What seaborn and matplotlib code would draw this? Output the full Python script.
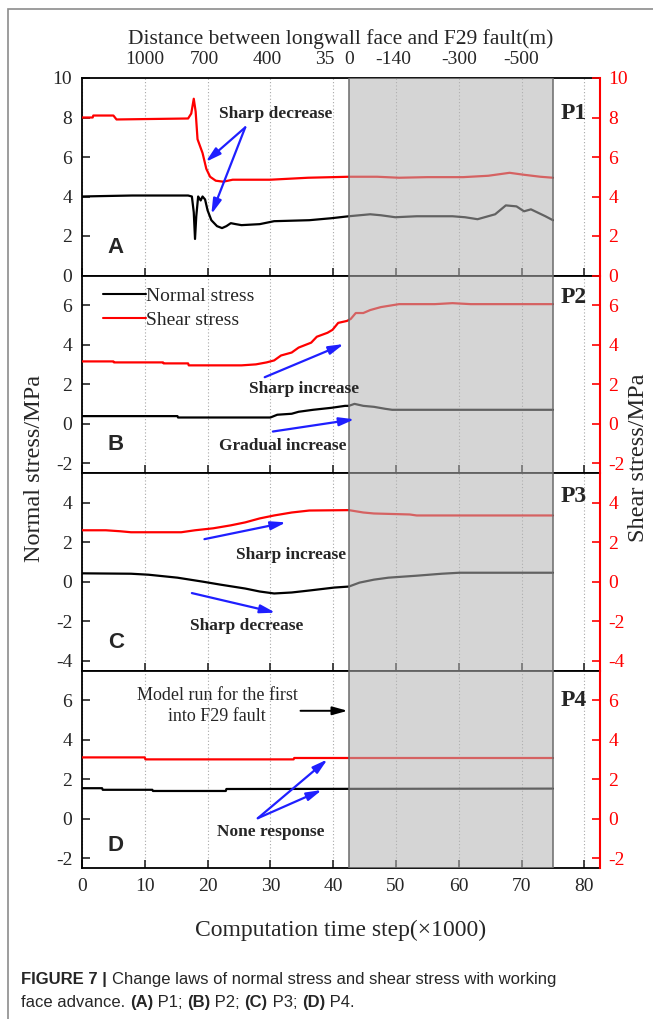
import matplotlib
matplotlib.use('Agg')
import matplotlib.pyplot as plt
import seaborn as sns
from matplotlib.patches import Rectangle
from matplotlib.lines import Line2D

sns.set_style('white')
plt.rcParams['font.family'] = ['Liberation Serif', 'DejaVu Serif']
plt.rcParams['axes.unicode_minus'] = False

# ---- datos (x = paso de calculo x1000, MPa) ----
a_x_norm = [0, 3, 8, 16.9, 17.5, 17.8, 18.0, 18.2, 18.5, 18.9, 19.2, 19.6, 20.0, 20.6, 21.5,
            22.3, 23.0, 23.7, 24.5, 25.4, 28.3, 30.6, 36.2, 39.7, 42.5, 45.9, 47.6, 49.9,
            53.3, 59.0, 61.0, 63.0, 65.8, 67.5, 69.2, 70.4, 71.5, 73.8, 75]
a_norm = [4.0, 4.02, 4.05, 4.05, 4.0, 3.2, 1.85, 3.0, 4.0, 3.8, 4.0, 3.85, 3.3, 2.8, 2.5,
          2.4, 2.5, 2.65, 2.6, 2.55, 2.6, 2.75, 2.8, 2.9, 3.0, 3.1, 3.05, 2.95,
          3.0, 3.0, 2.95, 2.85, 3.1, 3.55, 3.5, 3.25, 3.35, 3.0, 2.8]
a_x_shear = [0, 1.7, 1.8, 5.0, 5.5, 16.9, 17.4, 17.8, 18.1, 18.4, 19.2, 19.8, 20.4, 21.3,
             22.5, 24.0, 30.0, 36.0, 42.5, 47, 50.5, 55, 60.7, 64.7, 68.1, 70.4, 73, 75]
a_shear = [8.0, 8.0, 8.1, 8.1, 7.9, 7.95, 8.2, 8.95, 8.3, 6.9, 6.2, 5.4, 5.0, 4.8,
           4.75, 4.85, 4.85, 4.95, 5.0, 5.0, 4.95, 4.98, 4.98, 5.05, 5.2, 5.1, 5.0, 4.95]

b_x_norm = [0, 15.2, 15.3, 30.0, 31.1, 33.4, 34.5, 36.8, 39.7, 41.9, 42.5, 43.4, 44.8,
            46.5, 48.3, 49.4, 75]
b_norm = [0.38, 0.38, 0.31, 0.31, 0.45, 0.5, 0.6, 0.7, 0.8, 0.9, 0.9, 1.0, 0.9,
          0.85, 0.75, 0.7, 0.7]
b_x_shear = [0, 5, 5.1, 12.9, 13, 16.9, 17, 25.4, 27.7, 29.4, 30.6, 31.7, 33.4, 34.5, 35.7,
             36.5, 37.4, 39.1, 39.9, 40.8, 42.2, 42.8, 43.6, 44.8, 45.9, 47.6, 50.5, 56.2,
             59, 61.9, 75]
b_shear = [3.15, 3.15, 3.1, 3.1, 3.05, 3.05, 2.95, 2.95, 3.0, 3.1, 3.2, 3.45, 3.6, 3.85, 4.0,
           4.1, 4.4, 4.6, 4.75, 5.1, 5.2, 5.3, 5.6, 5.6, 5.75, 5.9, 6.05, 6.05,
           6.1, 6.05, 6.05]

c_x_norm = [0, 7.8, 10.6, 15.2, 19.2, 22.0, 26.0, 28.3, 30.6, 33.4, 36.2, 40.2, 42.5, 44.2,
            46.5, 48.8, 53.3, 57.3, 60.1, 75]
c_norm = [0.42, 0.4, 0.35, 0.2, 0.0, -0.15, -0.35, -0.5, -0.6, -0.55, -0.45, -0.3, -0.25, -0.05,
          0.1, 0.2, 0.3, 0.4, 0.45, 0.45]
c_x_shear = [0, 3.8, 6.1, 7.8, 15.8, 18.0, 20.9, 23.7, 26.0, 28.3, 30.6, 33.4, 36.2, 42.5,
             44.8, 46.5, 52.2, 53.3, 75]
c_shear = [2.6, 2.6, 2.55, 2.5, 2.5, 2.6, 2.7, 2.85, 3.0, 3.2, 3.35, 3.5, 3.6, 3.62,
           3.5, 3.45, 3.4, 3.35, 3.35]

d_x_norm = [0, 3.2, 3.3, 11.2, 11.3, 22.9, 23.0, 75]
d_norm = [1.54, 1.54, 1.46, 1.46, 1.4, 1.4, 1.5, 1.52]
d_x_shear = [0, 10, 10.1, 33.7, 33.8, 75]
d_shear = [3.1, 3.1, 3.0, 3.0, 3.07, 3.07]

panel_letters = ['A', 'B', 'C', 'D']
panel_points = ['P1', 'P2', 'P3', 'P4']
ylims = [(0, 10), (-2.5, 7.5), (-4.5, 5.5), (-2.5, 7.5)]
yticks = [[0, 2, 4, 6, 8, 10], [-2, 0, 2, 4, 6], [-4, -2, 0, 2, 4], [-2, 0, 2, 4, 6]]
xticks = [0, 10, 20, 30, 40, 50, 60, 70, 80]
top_pos = [10, 19.5, 29.5, 38.7, 42.6, 49.5, 60, 70]
top_labels = ['1000', '700', '400', '35', '0', '-140', '-300', '-500']
fault_start, fault_end = 42.5, 75

series = [(a_x_norm, a_norm, a_x_shear, a_shear),
          (b_x_norm, b_norm, b_x_shear, b_shear),
          (c_x_norm, c_norm, c_x_shear, c_shear),
          (d_x_norm, d_norm, d_x_shear, d_shear)]

W, H = 653, 1019
fig, axes = plt.subplots(4, 1, figsize=(W / 100, H / 100), dpi=100, sharex=True,
                         gridspec_kw=dict(hspace=0))
fig.subplots_adjust(left=82 / W, right=600 / W, top=1 - 78 / H, bottom=1 - 868 / H)

blue_arrow = dict(arrowstyle='-|>,head_length=0.9,head_width=0.25', color='#1f1fff', lw=1.6,
                  shrinkA=0, shrinkB=0)
bold_txt = dict(fontsize=12.5, fontweight='bold', ha='center', va='center', zorder=6)
point_y = [8.2, 6.4, 4.3, 6.0]
letter_y = [1.4, -1.07, -3.1, -1.36]

twins = []
for i, ax in enumerate(axes):
    xn, yn, xs, ys = series[i]
    tw = ax.twinx()
    twins.append(tw)
    sns.lineplot(x=xn, y=yn, ax=ax, color='black', lw=1.6, estimator=None, sort=False)
    sns.lineplot(x=xs, y=ys, ax=tw, color='red', lw=1.6, estimator=None, sort=False)
    for a in (ax, tw):
        a.set_ylim(*ylims[i])
        a.set_yticks(yticks[i])
        a.set_ylabel('')
    ax.set_xlim(0, 82.5)
    ax.set_xticks(xticks)
    ax.grid(axis='x', ls=(0, (1, 2)), color='#a8a8a8', lw=0.8)
    ax.grid(axis='y', visible=False)
    ax.tick_params(axis='both', direction='in', length=6, width=1.2, labelsize=14,
                   top=(i == 0), bottom=True, left=True, right=False, pad=7)
    tw.tick_params(axis='y', direction='in', length=6, width=1.2, labelsize=14,
                   colors='red', pad=6)
    for s in ['left', 'top', 'bottom']:
        ax.spines[s].set_linewidth(1.3)
        ax.spines[s].set_color('black')
        tw.spines[s].set_visible(False)
    ax.spines['right'].set_visible(False)
    tw.spines['right'].set_color('red')
    tw.spines['right'].set_linewidth(1.5)
    # zona dentro de la falla F29
    tw.axvspan(fault_start, fault_end, fc='#b4b4b4', alpha=0.55, lw=0, zorder=3)
    tw.axvline(fault_start, color='#6a6a6a', lw=1.1, zorder=3.5)
    tw.axvline(fault_end, color='#6a6a6a', lw=1.1, zorder=3.5)
    tw.text(78.3, point_y[i], panel_points[i], fontsize=17, fontweight='bold',
            ha='center', va='center', zorder=6)
    tw.text(5.4, letter_y[i], panel_letters[i], fontsize=16, fontweight='bold',
            family='Liberation Sans', ha='center', va='center', zorder=6)

axes[-1].set_xlabel('')
axes[-1].tick_params(axis='x', labelsize=14, pad=7)

# --- anotaciones ---
t = twins[0]
t.text(30.8, 8.2, 'Sharp decrease', **bold_txt)
t.annotate('', xy=(19.7, 5.75), xytext=(26, 7.5), arrowprops=blue_arrow, zorder=6)
t.annotate('', xy=(20.6, 3.1), xytext=(26, 7.5), arrowprops=blue_arrow, zorder=6)

t = twins[1]
t.text(35.4, 1.75, 'Sharp increase', **bold_txt)
t.annotate('', xy=(41.7, 4.03), xytext=(29.1, 2.35), arrowprops=blue_arrow, zorder=6)
t.text(32.0, -1.15, 'Gradual increase', **bold_txt)
t.annotate('', xy=(43.4, 0.22), xytext=(30.4, -0.4), arrowprops=blue_arrow, zorder=6)
leg = t.legend(handles=[Line2D([], [], color='black', lw=1.5), Line2D([], [], color='red', lw=1.5)],
               labels=['Normal stress', 'Shear stress'], loc='upper left',
               bbox_to_anchor=(0.025, 0.98), frameon=False, fontsize=14, handlelength=2.2,
               handletextpad=0.05, labelspacing=0.35, borderaxespad=0)
leg.set_zorder(6)

t = twins[2]
t.text(33.3, 1.33, 'Sharp increase', **bold_txt)
t.annotate('', xy=(32.5, 3.0), xytext=(19.5, 2.15), arrowprops=blue_arrow, zorder=6)
t.text(26.2, -2.25, 'Sharp decrease', **bold_txt)
t.annotate('', xy=(30.8, -1.57), xytext=(17.5, -0.58), arrowprops=blue_arrow, zorder=6)

t = twins[3]
t.text(21.5, 5.7, 'Model run for the first\ninto F29 fault', fontsize=13, ha='center',
       va='center', linespacing=1.35, zorder=6)
t.annotate('', xy=(42.3, 5.46), xytext=(34.8, 5.46),
           arrowprops=dict(arrowstyle='-|>,head_length=0.9,head_width=0.25', color='black',
                           lw=1.4, shrinkA=0, shrinkB=0), zorder=6)
t.text(30.0, -0.7, 'None response', **bold_txt)
t.annotate('', xy=(39.1, 3.0), xytext=(28, 0.02), arrowprops=blue_arrow, zorder=6)
t.annotate('', xy=(38.2, 1.45), xytext=(28, 0.02), arrowprops=blue_arrow, zorder=6)

# eje superior: distancia al frente
top = axes[0].twiny()
top.set_xlim(0, 82.5)
top.set_xticks(top_pos)
top.set_xticklabels(top_labels)
top.tick_params(axis='x', length=0, labelsize=14, pad=7)
for s in top.spines.values():
    s.set_visible(False)
top.set_xlabel('Distance between longwall face and F29 fault(m)', fontsize=15.5, labelpad=5)

# etiquetas generales
fig.text(35 / W, 1 - 468 / H, 'Normal stress/MPa', rotation=90, fontsize=17.5,
         ha='center', va='center')
fig.text(639 / W, 1 - 458 / H, 'Shear stress/MPa', rotation=90, fontsize=17.5,
         ha='center', va='center')
fig.text(341 / W, 1 - 930 / H, 'Computation time step(\u00d71000)', fontsize=17,
         ha='center', va='center')

# marco de la pagina
fig.patches.append(Rectangle((8 / W, -0.1), 1.2, 1.1 - 9 / H, transform=fig.transFigure,
                             fill=False, ec='#8c8c8c', lw=1.2))

# pie de figura
cap_font = ['Liberation Sans', 'DejaVu Sans']
renderer = fig.canvas.get_renderer()


def put_line(parts, y):
    x = 21 / W
    for txt, bold in parts:
        tt = fig.text(x, y, txt, fontsize=12, family=cap_font,
                      fontweight='bold' if bold else 'normal', ha='left', va='baseline')
        bb = tt.get_window_extent(renderer)
        x = bb.x1 / W


put_line([('FIGURE 7 | ', True), ('Change laws of normal stress and shear stress with working', False)],
         1 - 984 / H)
put_line([('face advance. ', False), ('(A)', True), (' P1; ', False), ('(B)', True), (' P2; ', False),
          ('(C)', True), (' P3; ', False), ('(D)', True), (' P4.', False)], 1 - 1007 / H)

fig.savefig('out.png', dpi=100)
